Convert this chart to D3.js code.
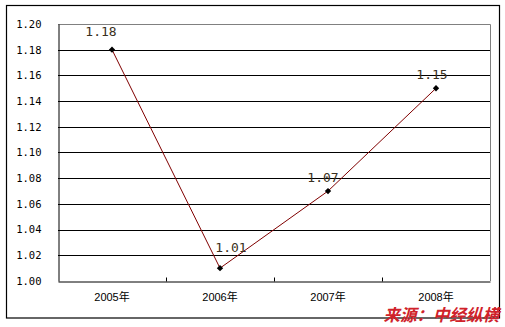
<!DOCTYPE html>
<html>
<head>
<meta charset="utf-8">
<script src="https://cdn.jsdelivr.net/npm/d3@7"></script>
<style>
  body { margin: 0; background: #fff; }
  svg { display: block; }
</style>
</head>
<body>
<svg width="505" height="327"></svg>
<script>
// chart data
const years = ["2005年", "2006年", "2007年", "2008年"];
const values = [1.18, 1.01, 1.07, 1.15];
const yTicks = [1.00, 1.02, 1.04, 1.06, 1.08, 1.10, 1.12, 1.14, 1.16, 1.18, 1.20];
// label nudges relative to each point
const labelDx = [-11, 11, -5, -4];
const labelDy = [-14, -16, -9, -9];
const source = "来源：中经纵横";

const svg = d3.select("svg");
const margin = { left: 58, right: 15, top: 24, bottom: 46 };
const width = 505, height = 327;

// outer frame
svg.append("rect")
  .attr("x", 6.5).attr("y", 5.5)
  .attr("width", 493).attr("height", 312.5)
  .attr("fill", "#fff")
  .attr("stroke", "#000")
  .attr("stroke-width", 1.2);

const x = d3.scaleBand()
  .domain(years)
  .range([margin.left, width - margin.right]);

const y = d3.scaleLinear()
  .domain([1.0, 1.2])
  .range([height - margin.bottom, margin.top]);

// gridlines
svg.append("g")
  .selectAll("line")
  .data(yTicks.slice(1, -1))
  .enter().append("line")
  .attr("x1", margin.left).attr("x2", width - margin.right)
  .attr("y1", d => Math.round(y(d)) + 0.5)
  .attr("y2", d => Math.round(y(d)) + 0.5)
  .attr("stroke", "#000");

// plot border top/right in gray
svg.append("path")
  .attr("d", `M${margin.left},${Math.round(y(1.2)) + 0.5}H${width - margin.right + 0.5}V${Math.round(y(1.0))}`)
  .attr("fill", "none")
  .attr("stroke", "#808080");

// y axis
const yAxis = svg.append("g")
  .attr("transform", `translate(${margin.left + 0.5},0)`)
  .call(d3.axisLeft(y).tickValues(yTicks).tickFormat(d3.format(".2f")).tickSize(0).tickPadding(17));
yAxis.select(".domain").attr("stroke", "#000");
yAxis.selectAll("text")
  .attr("font-family", "'DejaVu Sans Mono', monospace")
  .attr("font-size", 10.5)
  .attr("fill", "#000");

// x axis with inward ticks between categories
const xAxis = svg.append("g")
  .attr("transform", `translate(0,${Math.round(y(1.0)) + 0.5})`)
  .call(d3.axisBottom(x).tickSize(0).tickPadding(12));
xAxis.select(".domain").attr("stroke", "#000");
xAxis.selectAll("text")
  .attr("font-family", "'Liberation Sans', 'Noto Sans CJK SC', sans-serif")
  .attr("font-size", 11)
  .attr("fill", "#000");
xAxis.selectAll(".sep")
  .data(years.slice(1))
  .enter().append("line")
  .attr("class", "sep")
  .attr("x1", d => Math.round(x(d)) + 0.5)
  .attr("x2", d => Math.round(x(d)) + 0.5)
  .attr("y1", 0).attr("y2", -4)
  .attr("stroke", "#000");

// series line
const line = d3.line()
  .x((d, i) => x(years[i]) + x.bandwidth() / 2)
  .y(d => y(d));

svg.append("path")
  .datum(values)
  .attr("d", line)
  .attr("fill", "none")
  .attr("stroke", "#800000")
  .attr("stroke-width", 1);

// diamond markers (rotated squares)
svg.selectAll(".pt")
  .data(values)
  .enter().append("path")
  .attr("class", "pt")
  .attr("d", d3.symbol(d3.symbolSquare, 20))
  .attr("transform", (d, i) => `translate(${x(years[i]) + x.bandwidth() / 2},${y(d)}) rotate(45)`)
  .attr("fill", "#000");

// data labels
svg.selectAll(".lbl")
  .data(values)
  .enter().append("text")
  .attr("class", "lbl")
  .attr("x", (d, i) => x(years[i]) + x.bandwidth() / 2 + labelDx[i])
  .attr("y", (d, i) => y(d) + labelDy[i])
  .attr("text-anchor", "middle")
  .attr("font-family", "'DejaVu Sans Mono', monospace")
  .attr("font-size", 13)
  .attr("fill", "#3a3020")
  .text(d => d.toFixed(2));

// source note
svg.append("text")
  .attr("x", 499)
  .attr("y", 321)
  .attr("text-anchor", "end")
  .attr("font-family", "'Noto Sans CJK SC', sans-serif")
  .attr("font-weight", "bold")
  .attr("font-style", "italic")
  .attr("font-size", 16.5)
  .attr("fill", "#d0222a")
  .text(source);
</script>
</body>
</html>
